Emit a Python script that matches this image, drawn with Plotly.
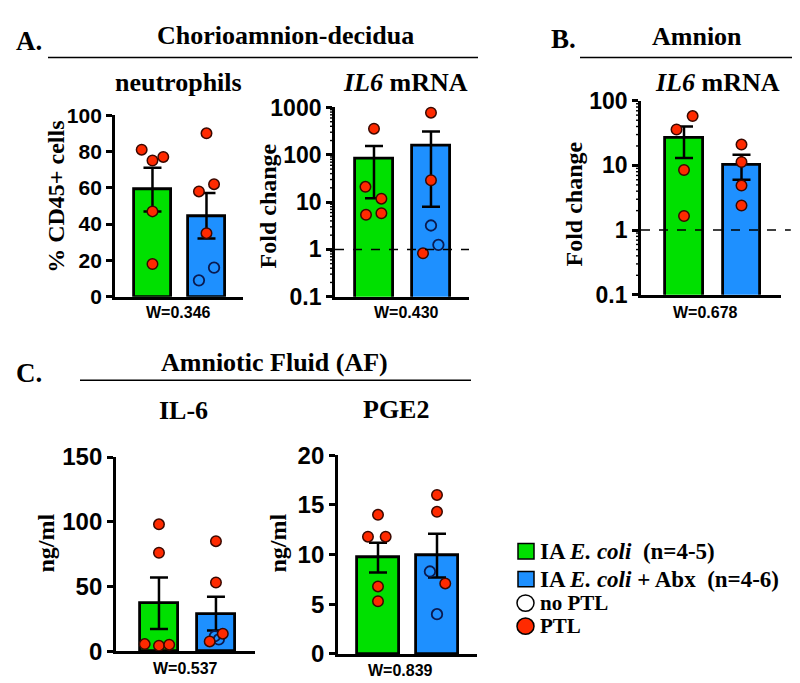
import math
import plotly.graph_objects as go

W, H = 800, 683

# ---------------- DATA ----------------
groups = ["IA E. coli", "IA E. coli + Abx"]

# A. Chorioamnion-decidua: neutrophils (% CD45+ cells)
neut_mean = [59, 44.6]
neut_sem = [12, 12.5]
neut_green = [81, 75, 77, 47, 18]
neut_green_ptl = [1, 1, 1, 1, 1]
neut_blue = [90, 62, 58, 35, 16, 9]
neut_blue_ptl = [1, 1, 1, 1, 0, 0]

# A. Chorioamnion-decidua: IL6 mRNA (fold change)
il6a_mean = [83, 159]
il6a_sem = [71, 151]
il6a_green = [357, 21, 11.8, 5.4, 5.8]
il6a_green_ptl = [1, 1, 1, 1, 1]
il6a_blue = [776, 29, 3.2, 1.25, 0.83]
il6a_blue_ptl = [1, 1, 0, 0, 1]

# B. Amnion: IL6 mRNA (fold change)
il6b_mean = [26.5, 10.3]
il6b_sem = [13.5, 4.3]
il6b_green = [58, 36, 8.5, 1.65]
il6b_green_ptl = [1, 1, 1, 1]
il6b_blue = [21, 11.3, 4.9, 2.4]
il6b_blue_ptl = [1, 1, 1, 1]

# C. Amniotic fluid: IL-6 (ng/ml)
afil6_mean = [37, 29]
afil6_sem = [20, 13]
afil6_green = [98, 76, 5.4, 4.2, 5.0]
afil6_green_ptl = [1, 1, 1, 1, 1]
afil6_blue = [85, 53, 13.5, 11.5, 9, 7.5]
afil6_blue_ptl = [1, 1, 1, 0, 0, 1]

# C. Amniotic fluid: PGE2 (ng/ml)
pge2_mean = [9.7, 9.9]
pge2_sem = [1.5, 2.2]
pge2_green = [14, 11.8, 11.8, 6.8, 5.3]
pge2_green_ptl = [1, 1, 1, 1, 1]
pge2_blue = [16, 14.3, 8.3, 7.1, 4.0]
pge2_blue_ptl = [1, 1, 0, 1, 0]

w_labels = ["W=0.346", "W=0.430", "W=0.678", "W=0.537", "W=0.839"]

log_ticks = [0.1, 1, 10, 100, 1000]
log_ticktext = ["0.1", "1", "10", "100", "1000"]

# ---------------- STYLE / LAYOUT (horizontal dodge of dots) ----------------
jitter = {
    "neut": ([-0.2, 0, 0.2, 0, 0], [0, 0.14, -0.14, 0, 0.14, -0.14]),
    "il6a": ([0, -0.15, 0.13, -0.14, 0.13], [0, 0, 0, 0.13, -0.14]),
    "il6b": ([0.15, -0.13, 0, 0], [0, 0, 0, 0]),
    "afil6": ([0, 0, -0.25, 0, 0.18], [0, 0, 0.12, -0.02, 0.05, -0.11]),
    "pge2": ([0, -0.17, 0.13, 0, 0], [0, 0, -0.12, 0.14, 0]),
}

GREEN = "#00e000"
BLUE = "#1e90ff"
RED = "#ff2a00"
SANS = "Liberation Sans"
SERIF = "Liberation Serif"


def px_x(p):
    return p / W


def px_y(p):
    return 1 - p / H


panels = [
    dict(key="neut", mean=neut_mean, sem=neut_sem,
         g=neut_green, gp=neut_green_ptl, b=neut_blue, bp=neut_blue_ptl,
         xpx=(107, 235), ypx=(97, 286), xr=[-0.694, 1.676], bw=0.685,
         log=False, yr=[0, 100], dtick=20, tfs=21),
    dict(key="il6a", mean=il6a_mean, sem=il6a_sem,
         g=il6a_green, gp=il6a_green_ptl, b=il6a_blue, bp=il6a_blue_ptl,
         xpx=(327, 461), ypx=(89, 286), xr=[-0.684, 1.667], bw=0.667,
         log=True, yr=[-1, 3], tfs=23),
    dict(key="il6b", mean=il6b_mean, sem=il6b_sem,
         g=il6b_green, gp=il6b_green_ptl, b=il6b_blue, bp=il6b_blue_ptl,
         xpx=(633, 773), ypx=(82, 284), xr=[-0.748, 1.687], bw=0.66,
         log=True, yr=[-1, 2], tfs=23),
    dict(key="afil6", mean=afil6_mean, sem=afil6_sem,
         g=afil6_green, gp=afil6_green_ptl, b=afil6_blue, bp=afil6_blue_ptl,
         xpx=(108, 247), ypx=(453, 655), xr=[-0.754, 1.685], bw=0.68,
         log=False, yr=[0, 150], dtick=50, tfs=24),
    dict(key="pge2", mean=pge2_mean, sem=pge2_sem,
         g=pge2_green, gp=pge2_green_ptl, b=pge2_blue, bp=pge2_blue_ptl,
         xpx=(330, 469), ypx=(451, 658), xr=[-0.678, 1.678], bw=0.71,
         log=False, yr=[0, 20], dtick=5, tfs=24),
]

fig = go.Figure()
layout = dict()

for i, p in enumerate(panels):
    n = "" if i == 0 else str(i + 1)
    xa, ya = "x" + n, "y" + n
    tickfont = dict(family=SANS, size=p["tfs"], color="black", weight="bold")
    fig.add_trace(go.Bar(
        x=[0, 1], y=p["mean"], width=p["bw"], xaxis=xa, yaxis=ya,
        marker=dict(color=[GREEN, BLUE], line=dict(color="black", width=2.8)),
        error_y=dict(type="data", array=p["sem"], color="black",
                     thickness=2.5, width=9),
        showlegend=False, hoverinfo="skip"))
    jg, jb = jitter[p["key"]]
    for ci, (vals, flags, jit) in enumerate([(p["g"], p["gp"], jg), (p["b"], p["bp"], jb)]):
        for status in (0, 1):
            xs = [ci + j for v, f, j in zip(vals, flags, jit) if f == status]
            ys = [v for v, f in zip(vals, flags) if f == status]
            if not xs:
                continue
            if status == 1:
                mk = dict(size=10.5, color=RED, line=dict(color="#3a0800", width=1.5))
            else:
                mk = dict(size=10.5, color="rgba(0,0,0,0)", line=dict(color="#0a1a50", width=1.8))
            fig.add_trace(go.Scatter(x=xs, y=ys, mode="markers", marker=mk,
                                     xaxis=xa, yaxis=ya, showlegend=False,
                                     hoverinfo="skip", cliponaxis=False))
    xd = [px_x(p["xpx"][0]), px_x(p["xpx"][1])]
    yd = [px_y(p["ypx"][1]), px_y(p["ypx"][0])]
    layout["xaxis" + n] = dict(domain=xd, range=p["xr"], anchor=ya,
                               showgrid=False, zeroline=False, showticklabels=False,
                               ticks="", showline=True, linecolor="black", linewidth=2.8,
                               fixedrange=True)
    yax = dict(domain=yd, anchor=xa, showgrid=False, zeroline=False,
               showline=True, linecolor="black", linewidth=2.8,
               ticks="outside", ticklen=6, tickwidth=2.5, tickcolor="black",
               tickfont=tickfont, fixedrange=True)
    if p["log"]:
        yax.update(type="log", range=p["yr"], tickvals=log_ticks, ticktext=log_ticktext)
        # minor log ticks (2..9 within each decade): axis decoration in paper space
        lo, hi = p["yr"]
        top, bot = p["ypx"]
        for e in range(lo, hi):
            for m in range(2, 10):
                frac = (math.log10(m * 10 ** e) - lo) / (hi - lo)
                ypix = bot - frac * (bot - top)
                fig.add_shape(type="line", xref="paper", yref="paper", layer="above",
                              x0=px_x(p["xpx"][0] - 5), x1=px_x(p["xpx"][0]),
                              y0=px_y(ypix), y1=px_y(ypix),
                              line=dict(color="black", width=1.4))
    else:
        yax.update(range=p["yr"], dtick=p["dtick"], tick0=0)
    layout["yaxis" + n] = yax

# dashed reference lines at fold change = 1
fig.add_shape(type="line", xref="x2 domain", yref="y2", x0=0, x1=1, y0=1, y1=1,
              line=dict(color="black", width=1.5, dash="dash"))
fig.add_shape(type="line", xref="x3 domain", yref="y3", x0=0, x1=1.07, y0=1, y1=1,
              line=dict(color="black", width=1.5, dash="dash"))

annotations = []


def txt(text, x, y, size, family=SERIF, angle=0, xanchor="center"):
    annotations.append(dict(text=text, x=px_x(x), y=px_y(y), xref="paper", yref="paper",
                            showarrow=False, xanchor=xanchor, yanchor="middle",
                            textangle=angle, borderpad=0,
                            font=dict(family=family, size=size, color="black")))


def hline(x0, x1, y):
    fig.add_shape(type="line", xref="paper", yref="paper",
                  x0=px_x(x0), x1=px_x(x1), y0=px_y(y), y1=px_y(y),
                  line=dict(color="black", width=1.5))


# Section headings
txt("<b>A.</b>", 21, 20, 27)
txt("<b>Chorioamnion-decidua</b>", 277, 14, 26)
hline(40, 470, 37)
txt("<b>B.</b>", 555, 18, 27)
txt("<b>Amnion</b>", 689, 15, 26)
hline(572, 797, 37)
txt("<b>C.</b>", 21, 365, 27)
txt("<b>Amniotic Fluid (AF)</b>", 266, 355, 26)
hline(72, 463, 373)

# Panel titles
txt("<b>neutrophils</b>", 170, 63, 26)
txt("<b><i>IL6</i> mRNA</b>", 397, 63, 26)
txt("<b><i>IL6</i> mRNA</b>", 709, 63, 26)
txt("<b>IL-6</b>", 175, 405, 26)
txt("<b>PGE2</b>", 388, 403, 26)

# Y axis titles
txt("<b>% CD45+ cells</b>", 48, 182, 24, angle=-90)
txt("<b>Fold change</b>", 260, 192, 24, angle=-90)
txt("<b>Fold change</b>", 566, 190, 24, angle=-90)
txt("<b>ng/ml</b>", 38, 543, 24, angle=-90)
txt("<b>ng/ml</b>", 270, 543, 24, angle=-90)

# W statistics
for label, (x, y) in zip(w_labels, [(170, 302), (398, 302), (697, 302), (177, 673), (392, 675)]):
    txt("<b>" + label + "</b>", x, y, 16, family=SANS)

# Legend (drawn manually)
leg_rows = [551, 580, 605, 629]
for color, yc in [(GREEN, leg_rows[0]), (BLUE, leg_rows[1])]:
    fig.add_shape(type="rect", xref="paper", yref="paper",
                  x0=px_x(510), x1=px_x(526), y0=px_y(yc + 8), y1=px_y(yc - 8),
                  fillcolor=color, line=dict(color="black", width=1.5))
for fill, yc in [("white", leg_rows[2]), (RED, leg_rows[3])]:
    fig.add_shape(type="circle", xref="paper", yref="paper",
                  x0=px_x(509), x1=px_x(526), y0=px_y(yc + 8.5), y1=px_y(yc - 8.5),
                  fillcolor=fill, line=dict(color="black", width=1.5))
txt("<b>IA <i>E. coli</i>&nbsp;&nbsp;(n=4-5)</b>", 531, leg_rows[0], 23, xanchor="left")
txt("<b>IA <i>E. coli</i> + Abx&nbsp;&nbsp;(n=4-6)</b>", 531, leg_rows[1], 23, xanchor="left")
txt("<b>no PTL</b>", 531, leg_rows[2], 21, xanchor="left")
txt("<b>PTL</b>", 531, leg_rows[3], 21, xanchor="left")

fig.update_layout(width=W, height=H, margin=dict(l=0, r=0, t=0, b=0),
                  plot_bgcolor="white", paper_bgcolor="white",
                  showlegend=False, bargap=0, annotations=annotations, **layout)

fig.write_html("out.html")
